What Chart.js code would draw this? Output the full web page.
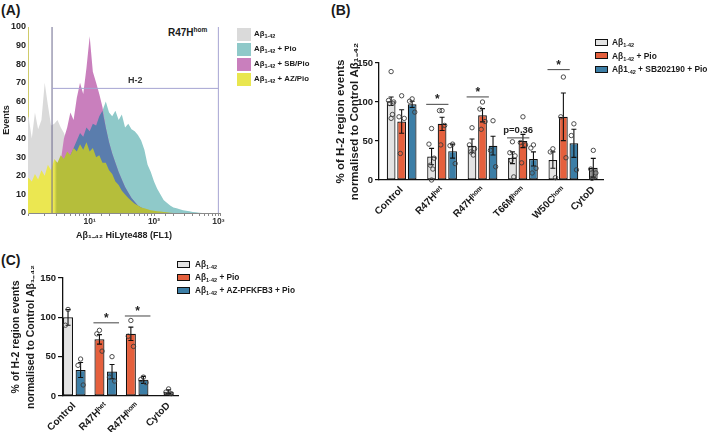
<!DOCTYPE html>
<html>
<head>
<meta charset="utf-8">
<script src="https://cdn.jsdelivr.net/npm/chart.js@4.4.1/dist/chart.umd.min.js"></script>
<style>
  body { margin: 0; width: 709px; height: 434px; position: relative; overflow: hidden; background: #fff;
         font-family: "Liberation Sans", Arial, sans-serif; font-weight: bold; color: #1a1a1a; }
  canvas { position: absolute; }
  .txt { position: absolute; white-space: nowrap; }
  .panel { font-size: 14px; }
  sub { font-size: 5.5px; vertical-align: -2px; line-height: 0; }
  sup { font-size: 6.5px; vertical-align: 4px; line-height: 0; }
  .box { position: absolute; box-sizing: border-box; }
</style>
</head>
<body>
<div class="txt panel" style="left:1px;top:2px">(A)</div>
<div class="txt panel" style="left:331px;top:2px">(B)</div>
<div class="txt panel" style="left:1px;top:252px">(C)</div>
<div class="txt" style="left:168px;top:27px;font-size:10px">R47H<sup>hom</sup></div>

<canvas id="chartA" width="330" height="245" style="left:0;top:0"></canvas>
<canvas id="chartB" width="379" height="220" style="left:330px;top:0"></canvas>
<canvas id="chartC" width="330" height="194" style="left:0;top:240px"></canvas>

<script>
// ---- (A) histogram: fluorescence bins (FL1) and events per bin ----
const flBins = [1.00, 1.12, 1.26, 1.41, 1.58, 1.78, 2.00, 2.24, 2.51, 2.82,
  3.16, 3.55, 3.98, 4.47, 5.01, 5.62, 6.31, 7.08, 7.94, 8.91,
  10.0, 11.2, 12.6, 14.1, 15.8, 17.8, 20.0, 22.4, 25.1, 28.2,
  31.6, 35.5, 39.8, 44.7, 50.1, 56.2, 63.1, 70.8, 79.4, 89.1,
  100, 112, 126, 141, 158, 178, 200, 224, 251, 282,
  316, 355, 398, 447, 501, 562, 631, 708, 794, 891, 1000];

const grayAb = [48, 52, 40, 54, 45, 50, 70, 58, 47, 48,
  50, 46, 43, 38, 32, 28, 24, 20, 16, 12,
  9, 7, 5, 3, 2, 1, 0.5, 0, 0, 0,
  0, 0, 0, 0, 0, 0, 0, 0, 0, 0,
  0, 0, 0, 0, 0, 0, 0, 0, 0, 0,
  0, 0, 0, 0, 0, 0, 0, 0, 0, 0, 0];

const tealPio = [0, 0, 0, 0.5, 1, 1.5, 2, 3, 5, 8,
  12, 16, 21, 26, 31, 35, 39, 43, 41, 46,
  44, 48, 47, 52, 55, 60, 54, 52, 55, 50,
  53, 46, 48, 45, 44, 42, 39, 34, 26, 22,
  17, 13, 10, 7, 5.5, 4, 3, 2.5, 2, 1.5,
  1.2, 1, 0.6, 0.4, 0.2, 0, 0, 0, 0, 0, 0];

const magentaSbPio = [0, 0, 0.5, 1, 1, 1.5, 2, 3, 5, 10,
  18, 28, 40, 46, 54, 50, 62, 70, 64, 78,
  95, 76, 70, 64, 57, 46, 38, 32, 27, 22,
  18, 14, 11, 8, 6, 4, 3, 2, 1.5, 1,
  0.7, 0.4, 0.2, 0, 0, 0, 0, 0, 0, 0,
  0, 0, 0, 0, 0, 0, 0, 0, 0, 0, 0];

const yellowAzPio = [16, 19, 17, 21, 18, 23, 20, 26, 23, 29,
  27, 31, 29, 33, 31, 35, 33, 37, 34, 38,
  33, 35, 30, 31, 27, 27, 23, 21, 17, 15,
  12, 10, 8, 6.5, 5, 4, 3, 2.5, 2, 1.5,
  1.2, 1, 0.8, 0.6, 0.4, 0.2, 0, 0, 0, 0,
  0, 0, 0, 0, 0, 0, 0, 0, 0, 0, 0];

const gateLow = 2.6, gateHigh = 1000, gateLevel = 67;
const decadeLabels = { 10: '10¹', 100: '10²', 1000: '10³' };

// ---- (B) ----
const groupsB = ['Control', 'R47Hʰᵉᵗ', 'R47Hʰᵒᵐ', 'T66Mʰᵒᵐ', 'W50Cʰᵒᵐ', 'CytoD'];
const labelPosB = [0, 1, 2, 3, 4, 4.74];
const abMeanB = [101, 30, 44, 28.5, 25.5, 15.7];
const abSemB = [5.5, 10.5, 8.5, 7.5, 10.5, 12];
const abPtsB = [[139, 102, 100, 98, 84, 79], [66, 46, 28, 19, 14, 0], [67, 45, 40, 36, 32],
  [49, 35, 31, 25, 4], [40, 36, 3], [38, 14, 9, 2]];
const pioMeanB = [75, 72, 83, 50, 81, null];
const pioSemB = [15, 8.5, 8.5, 8.5, 30.5, null];
const pioPtsB = [[108, 81, 79, 34], [89, 89, 70, 45], [100, 91, 75, 65], [81, 48, 45, 22], [132, 81, 28.5], []];
const sbMeanB = [97, 37, 44, 27, 47, null];
const sbSemB = [4, 9, 12, 9, 18, null];
const sbPtsB = [[104, 101, 87], [46, 44, 21], [76, 38, 17], [45, 41, 15, 9], [72, 57, 13], []];
const sigB = [{ g: 1, text: '*', y: 97 }, { g: 2, text: '*', y: 106.5 }, { g: 3, text: 'p=0.36', y: 54 }, { g: 4, text: '*', y: 141.5 }];

// ---- (C) ----
const groupsC = ['Control', 'R47Hʰᵉᵗ', 'R47Hʰᵒᵐ', 'CytoD'];
const abMeanC = [100, null, null, 5.5];
const abSemC = [10, null, null, 2.5];
const abPtsC = [[110, 90], [], [], [9, 5, 3]];
const pioMeanC = [null, 72, 79, null];
const pioSemC = [null, 6, 8.5, null];
const pioPtsC = [[], [83.5, 79, 57], [96, 76, 63], []];
const azMeanC = [33, 31, 20.5, null];
const azSemC = [9.5, 9, 4.5, null];
const azPtsC = [[47, 39, 14], [50, 24, 19], [24, 21, 17], []];
const sigC = [{ g: 1, text: '*', y: 93 }, { g: 2, text: '*', y: 101.7 }];

const FONT = '"Liberation Sans", Arial, sans-serif';
const jitter = [0, -2.6, 2.6, -1.3, 1.3, 0];

// legends (HTML so the subscripts stay real text)
function legend(items, left, top, step, w, h, textLeft, size) {
  items.forEach((it, i) => {
    const c = top + i * step;
    const b = document.createElement('div');
    b.className = 'box';
    b.style.cssText = `left:${left}px;top:${c - h / 2}px;width:${w}px;height:${h}px;background:${it.color};` +
      (it.border ? 'border:1px solid #111;' : '');
    document.body.appendChild(b);
    const t = document.createElement('div');
    t.className = 'txt';
    t.style.cssText = `left:${textLeft}px;top:${c - 7}px;line-height:14px;font-size:${size}px`;
    t.innerHTML = it.html;
    document.body.appendChild(t);
  });
}
legend([
  { color: '#dadada', html: 'Aβ<sub>1-42</sub>' },
  { color: '#8fc9c9', html: 'Aβ<sub>1-42</sub> + Pio' },
  { color: '#c97fbd', html: 'Aβ<sub>1-42</sub> + SB/Pio' },
  { color: '#e9e64f', html: 'Aβ<sub>1-42</sub> + AZ/Pio' },
], 237, 34, 15, 14, 13, 254, 7.8);
legend([
  { color: '#e3e3e3', border: true, html: 'Aβ<sub>1-42</sub>' },
  { color: '#e5603d', border: true, html: 'Aβ<sub>1-42</sub> + Pio' },
  { color: '#3c7ea6', border: true, html: 'Aβ1<sub>-42</sub> + SB202190 + Pio' },
], 595, 42, 13.7, 13, 7, 612, 8.4);
legend([
  { color: '#e3e3e3', border: true, html: 'Aβ<sub>1-42</sub>' },
  { color: '#e5603d', border: true, html: 'Aβ<sub>1-42</sub> + Pio' },
  { color: '#3c7ea6', border: true, html: 'Aβ<sub>1-42</sub> + AZ-PFKFB3 + Pio' },
], 177, 264.3, 13, 13, 7, 195, 8.3);

// keep the rotated / edge tick labels from shrinking the plot area
const noEdgePad = (s) => { s.paddingLeft = 0; s.paddingRight = 0; };

// ---------- (A) ----------
const histData = (vals) => flBins.map((x, i) => ({ x, y: vals[i] }));
const overlap = magentaSbPio.map((v, i) => Math.min(v, tealPio[i]));

const yellowFill = (c) => {
  const chart = c.chart;
  const area = chart.chartArea;
  if (!area) return '#e9e64f';
  const gx = chart.scales.x.getPixelForValue(gateLow) + 2;
  const t = Math.min(Math.max((gx - area.left) / (area.right - area.left), 0), 0.98);
  const g = chart.ctx.createLinearGradient(area.left, 0, area.right, 0);
  g.addColorStop(0, '#ebe751');
  g.addColorStop(t, '#ebe751');
  g.addColorStop(t + 0.015, '#b5be3b');
  g.addColorStop(1, '#b5be3b');
  return g;
};

const gatePlugin = {
  id: 'gate',
  afterDatasetsDraw(chart) {
    const { ctx, scales: { x, y } } = chart;
    const xl = x.getPixelForValue(gateLow);
    const xr = x.getPixelForValue(gateHigh);
    const yg = y.getPixelForValue(gateLevel);
    ctx.save();
    ctx.lineWidth = 1;
    ctx.strokeStyle = '#6c6a8e';
    ctx.beginPath();
    ctx.moveTo(xl, y.top); ctx.lineTo(xl, y.bottom);
    ctx.stroke();
    ctx.strokeStyle = '#a6a4d2';
    ctx.beginPath();
    ctx.moveTo(xl, yg); ctx.lineTo(xr, yg);
    ctx.moveTo(xr, y.top); ctx.lineTo(xr, y.bottom);
    ctx.stroke();
    ctx.fillStyle = '#333';
    ctx.font = 'bold 9px ' + FONT;
    ctx.textAlign = 'center';
    ctx.textBaseline = 'bottom';
    ctx.fillText('H-2', (xl + xr) / 2, yg - 3);
    ctx.restore();
  },
};

new Chart(document.getElementById('chartA'), {
  type: 'line',
  data: {
    datasets: [
      { label: 'Aβ1-42', data: histData(grayAb), backgroundColor: '#dadada', order: 5 },
      { label: 'Aβ1-42 + Pio', data: histData(tealPio), backgroundColor: '#8fc9c9', order: 4 },
      { label: 'Aβ1-42 + SB/Pio', data: histData(magentaSbPio), backgroundColor: '#c97fbd', order: 3 },
      { label: 'Pio & SB/Pio overlap', data: histData(overlap), backgroundColor: '#5a7dad', order: 2 },
      { label: 'Aβ1-42 + AZ/Pio', data: histData(yellowAzPio), backgroundColor: yellowFill, order: 1 },
    ],
  },
  options: {
    responsive: false,
    animation: false,
    devicePixelRatio: 1,
    layout: { padding: { left: 0, top: 27, right: 110, bottom: 2 } },
    datasets: { line: { fill: 'origin', borderWidth: 0, borderColor: 'transparent', pointRadius: 0, tension: 0 } },
    plugins: { legend: { display: false }, tooltip: { enabled: false } },
    scales: {
      x: {
        type: 'logarithmic',
        min: 1.1,
        max: 1060,
        afterFit: (s) => { s.height = 30; noEdgePad(s); },
        grid: { display: true, drawOnChartArea: false, drawTicks: true, tickLength: 3, color: '#8a8a8a' },
        border: { display: true, color: '#8a8a8a' },
        ticks: {
          autoSkip: false, maxRotation: 0, padding: 1, color: '#333',
          font: { family: FONT, size: 8.5, weight: 'bold' },
          callback: (v) => decadeLabels[v] || '',
        },
        title: {
          display: true, text: 'Aβ₁₋₄₂ HiLyte488 (FL1)', color: '#222',
          font: { family: FONT, size: 9, weight: 'bold' }, padding: { top: 2, bottom: 2 },
        },
      },
      y: {
        min: 0,
        max: 100,
        afterFit: (s) => { s.width = 28; },
        grid: { display: false, drawTicks: false },
        border: { display: true, color: '#cfcb6a' },
        ticks: { stepSize: 10, padding: 2, color: '#222', font: { family: FONT, size: 9, weight: 'bold' } },
        title: {
          display: true, text: 'Events', color: '#222',
          font: { family: FONT, size: 9, weight: 'bold' }, padding: { top: 1, bottom: 0 },
        },
      },
    },
  },
  plugins: [gatePlugin],
});

// ---------- bar panels ----------
const barExtras = {
  id: 'barExtras',
  afterDatasetsDraw(chart, args, opts) {
    const { ctx } = chart;
    const y = chart.scales.y;
    ctx.save();
    chart.data.datasets.forEach((ds, di) => {
      const meta = chart.getDatasetMeta(di);
      meta.data.forEach((bar, i) => {
        const mean = ds.data[i].y;
        if (mean == null) return;
        const sem = ds.sem[i];
        const yTop = y.getPixelForValue(mean + sem);
        const yBot = y.getPixelForValue(Math.max(mean - sem, 0));
        ctx.strokeStyle = '#111';
        ctx.lineWidth = 1.1;
        ctx.beginPath();
        ctx.moveTo(bar.x, yTop); ctx.lineTo(bar.x, yBot);
        ctx.moveTo(bar.x - 2.5, yTop); ctx.lineTo(bar.x + 2.5, yTop);
        ctx.moveTo(bar.x - 2.5, yBot); ctx.lineTo(bar.x + 2.5, yBot);
        ctx.stroke();
        ctx.strokeStyle = '#3b3b3b';
        ctx.lineWidth = 0.9;
        ds.pts[i].forEach((v, k) => {
          ctx.beginPath();
          ctx.arc(bar.x + jitter[k % jitter.length], y.getPixelForValue(v), 2.2, 0, Math.PI * 2);
          ctx.stroke();
        });
      });
    });
    // significance brackets
    (opts.sig || []).forEach((s) => {
      const a = chart.getDatasetMeta(opts.pair[0]).data[s.g];
      const b = chart.getDatasetMeta(opts.pair[1]).data[s.g];
      const x0 = a.x - a.width / 2 - 1;
      const x1 = b.x + b.width / 2 + 2;
      const yy = y.getPixelForValue(s.y);
      ctx.strokeStyle = '#444';
      ctx.lineWidth = 1;
      ctx.beginPath();
      ctx.moveTo(x0, yy); ctx.lineTo(x1, yy);
      ctx.stroke();
      ctx.fillStyle = '#222';
      ctx.textAlign = 'center';
      if (s.text === '*') {
        ctx.font = 'bold 12px ' + FONT;
        ctx.textBaseline = 'alphabetic';
        ctx.fillText('*', (x0 + x1) / 2, yy - 1);
      } else {
        ctx.font = 'bold 9.5px ' + FONT;
        ctx.textBaseline = 'bottom';
        ctx.fillText(s.text, (x0 + x1) / 2, yy - 3);
      }
    });
    ctx.restore();
  },
};

const barData = (means) => means.map((y, x) => ({ x, y }));
const yTitle = ['% of H-2 region events', 'normalised to Control Aβ₁₋₄₂'];
const tickFont = { family: FONT, size: 10, weight: 'bold' };

function yScale(width, tickLen, titlePad, titleSize, lineHeight) {
  return {
    min: 0,
    max: 150,
    afterFit: (s) => { s.width = width; },
    grid: { drawOnChartArea: false, tickLength: tickLen, color: '#111', lineWidth: 1.2 },
    border: { color: '#111', width: 1.3 },
    ticks: { stepSize: 50, padding: 2, color: '#1a1a1a', font: { family: FONT, size: 9.5, weight: 'bold' } },
    title: {
      display: true, text: yTitle, color: '#1a1a1a',
      font: { family: FONT, size: titleSize, weight: 'bold', lineHeight },
      padding: { top: titlePad, bottom: 0 },
    },
  };
}

// ---------- (B) ----------
new Chart(document.getElementById('chartB'), {
  type: 'bar',
  data: {
    datasets: [
      { label: 'Aβ1-42', data: barData(abMeanB), sem: abSemB, pts: abPtsB,
        backgroundColor: groupsB.map((g) => (g === 'CytoD' ? '#8c8c8c' : '#e3e3e3')) },
      { label: 'Aβ1-42 + Pio', data: barData(pioMeanB), sem: pioSemB, pts: pioPtsB, backgroundColor: '#e5603d' },
      { label: 'Aβ1-42 + SB202190 + Pio', data: barData(sbMeanB), sem: sbSemB, pts: sbPtsB, backgroundColor: '#3c7ea6' },
    ],
  },
  options: {
    responsive: false,
    animation: false,
    devicePixelRatio: 1,
    layout: { padding: { left: 0, top: 63, right: 106, bottom: 1 } },
    datasets: {
      bar: { xAxisID: 'x', borderColor: '#111', borderWidth: 1.2, borderSkipped: false,
             categoryPercentage: 0.78, barPercentage: 0.83 },
    },
    plugins: {
      legend: { display: false },
      tooltip: { enabled: false },
      barExtras: { sig: sigB, pair: [0, 1] },
    },
    scales: {
      x: {
        type: 'linear', min: -0.56, max: 4.98, offset: false,
        afterBuildTicks: (s) => { s.ticks = groupsB.map((_, i) => ({ value: i })); },
        afterFit: (s) => { s.height = 0; noEdgePad(s); },
        grid: { display: false, drawTicks: false },
        ticks: { display: false },
        border: { color: '#111', width: 1.3 },
      },
      xl: {
        type: 'linear', position: 'bottom', min: -0.56, max: 4.98, offset: false,
        afterBuildTicks: (s) => { s.ticks = labelPosB.map((v) => ({ value: v })); },
        afterFit: (s) => { s.height = 39; noEdgePad(s); },
        grid: { display: false, drawTicks: false },
        border: { display: false },
        ticks: { autoSkip: false, minRotation: 45, maxRotation: 45, padding: 4, color: '#1a1a1a',
                 font: tickFont, callback: (v, i) => groupsB[i] },
      },
      y: yScale(49, 4, 4.5, 11.5, 1.17),
    },
  },
  plugins: [barExtras],
});

// ---------- (C) ----------
new Chart(document.getElementById('chartC'), {
  type: 'bar',
  data: {
    datasets: [
      { label: 'Aβ1-42', data: barData(abMeanC), sem: abSemC, pts: abPtsC,
        backgroundColor: groupsC.map((g) => (g === 'CytoD' ? '#6e6e6e' : '#e3e3e3')) },
      { label: 'Aβ1-42 + Pio', data: barData(pioMeanC), sem: pioSemC, pts: pioPtsC, backgroundColor: '#e5603d' },
      { label: 'Aβ1-42 + AZ-PFKFB3 + Pio', data: barData(azMeanC), sem: azSemC, pts: azPtsC, backgroundColor: '#3c7ea6' },
    ],
  },
  options: {
    responsive: false,
    animation: false,
    devicePixelRatio: 1,
    layout: { padding: { left: 0, top: 38, right: 152, bottom: 2 } },
    datasets: {
      bar: { borderColor: '#111', borderWidth: 1.2, borderSkipped: false, skipNull: true,
             categoryPercentage: 0.8, barPercentage: 0.8, maxBarThickness: 10 },
    },
    plugins: {
      legend: { display: false },
      tooltip: { enabled: false },
      barExtras: { sig: sigC, pair: [1, 2] },
    },
    scales: {
      x: {
        type: 'linear', min: -0.36, max: 3.3, offset: false,
        afterBuildTicks: (s) => { s.ticks = groupsC.map((_, i) => ({ value: i })); },
        afterFit: (s) => { s.height = 36; noEdgePad(s); },
        grid: { display: false, drawTicks: false },
        border: { color: '#111', width: 1.3 },
        ticks: { autoSkip: false, minRotation: 45, maxRotation: 45, padding: 4, color: '#1a1a1a',
                 font: tickFont, callback: (v, i) => groupsC[i] },
      },
      y: yScale(63, 5, 8.5, 10.5, 1.45),
    },
  },
  plugins: [barExtras],
});
</script>
</body>
</html>
